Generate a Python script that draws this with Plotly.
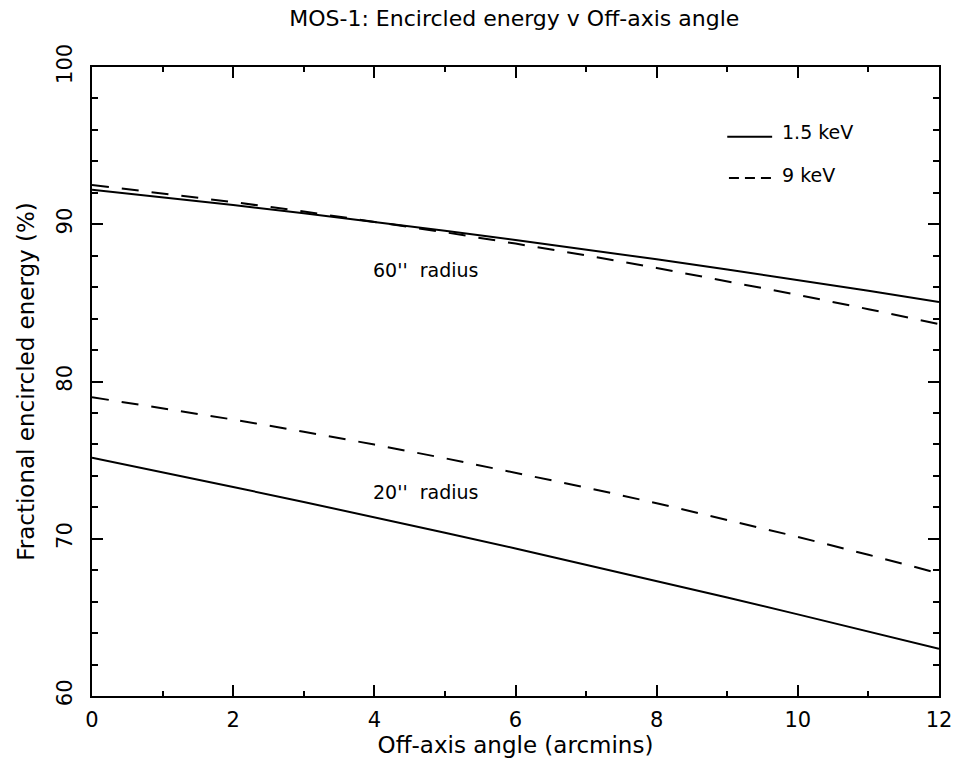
import plotly.graph_objects as go

angle = [0, 1, 2, 3, 4, 5, 6, 7, 8, 9, 10, 11, 12]
r60_15kev = [92.2, 91.72, 91.22, 90.70, 90.15, 89.59, 89.00, 88.39, 87.77, 87.12, 86.45, 85.77, 85.05]
r60_9kev = [92.5, 91.97, 91.41, 90.81, 90.17, 89.49, 88.77, 88.02, 87.22, 86.38, 85.51, 84.60, 83.65]
r20_15kev = [75.15, 74.23, 73.29, 72.34, 71.37, 70.38, 69.38, 68.35, 67.33, 66.26, 65.19, 64.11, 63.0]
r20_9kev = [79.0, 78.31, 77.58, 76.81, 75.99, 75.12, 74.21, 73.26, 72.26, 71.21, 70.12, 68.98, 67.8]

FONT = "DejaVu Sans"
solid = dict(color="black", width=2)
dashed = dict(color="black", width=2, dash="17px,13px")

fig = go.Figure()
for ys, ln in [(r60_15kev, solid), (r60_9kev, dashed), (r20_15kev, solid), (r20_9kev, dashed)]:
    fig.add_trace(go.Scatter(x=angle, y=ys, mode="lines", line=ln, showlegend=False, hoverinfo="skip"))

axis_common = dict(
    showline=True, linecolor="black", linewidth=2, mirror="allticks",
    ticks="inside", ticklen=11, tickwidth=1.5, tickcolor="black",
    showgrid=False, zeroline=False, automargin=False,
    tickfont=dict(family=FONT, size=21, color="black"),
)

fig.update_xaxes(range=[0, 12], tickvals=[0, 2, 4, 6, 8, 10, 12], ticklabelstandoff=4,
                 minor=dict(dtick=1, ticks="inside", ticklen=5, tickwidth=1.5, tickcolor="black"),
                 title=dict(text="Off-axis angle (arcmins)", font=dict(family=FONT, size=23, color="black"), standoff=0),
                 **axis_common)
fig.update_yaxes(range=[60, 100], tickvals=[60, 70, 80, 90, 100], tickangle=-90, ticklabelstandoff=10,
                 minor=dict(dtick=2, ticks="inside", ticklen=6, tickwidth=1.5, tickcolor="black"),
                 title=dict(text="Fractional encircled energy (%)", font=dict(family=FONT, size=23, color="black"), standoff=12),
                 **axis_common)

af = dict(family=FONT, size=19, color="black")
annots = [
    dict(x=4.73, y=87.09, text="60''  radius", xref="x", yref="y", showarrow=False, font=af),
    dict(x=4.73, y=72.97, text="20''  radius", xref="x", yref="y", showarrow=False, font=af),
    dict(x=0.8123, y=0.897, text="1.5 keV", xref="paper", yref="paper", showarrow=False,
         xanchor="left", yanchor="middle", font=af),
    dict(x=0.8123, y=0.828, text="9 keV", xref="paper", yref="paper", showarrow=False,
         xanchor="left", yanchor="middle", font=af),
]
shapes = [
    dict(type="line", xref="paper", yref="paper", x0=0.750, x1=0.803, y0=0.889, y1=0.889,
         line=dict(color="black", width=2)),
    dict(type="line", xref="paper", yref="paper", x0=0.752, x1=0.803, y0=0.8235, y1=0.8235,
         line=dict(color="black", width=2, dash="10px,6px")),
]

fig.update_layout(
    width=956, height=761,
    margin=dict(l=92, r=17, t=67, b=65),
    paper_bgcolor="white", plot_bgcolor="white",
    title=dict(text="MOS-1: Encircled energy v Off-axis angle", x=0.538, xanchor="center",
               y=0.976, yanchor="middle", font=dict(family=FONT, size=22, color="black")),
    annotations=annots, shapes=shapes,
)

fig.write_html("out.html", config={"displayModeBar": False},
               post_script="document.body.style.margin='0px';")
